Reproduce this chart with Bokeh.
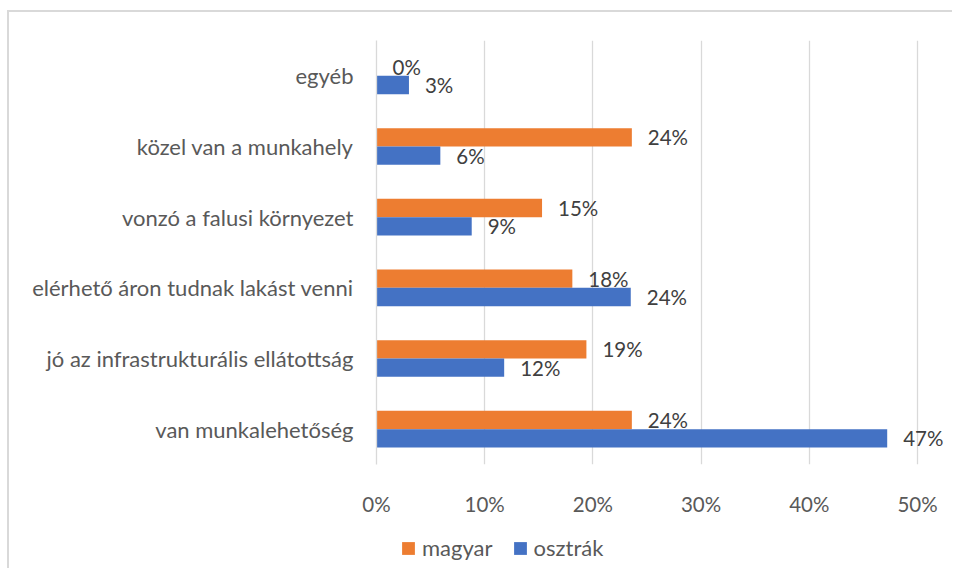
from bokeh.plotting import figure
from bokeh.layouts import column
from bokeh.models import (ColumnDataSource, FactorRange, Range1d, PrintfTickFormatter, Legend,
                          LegendItem, LabelSet)
from bokeh.transform import dodge
from bokeh.core.properties import value
from bokeh.embed import file_html
from bokeh.resources import INLINE

categories = ["egyéb", "közel van a munkahely", "vonzó a falusi környezet",
              "elérhető áron tudnak lakást venni", "jó az infrastrukturális ellátottság",
              "van munkalehetőség"]
magyar = [0.0, 23.6, 15.3, 18.1, 19.4, 23.6]
osztrak = [3.0, 5.9, 8.8, 23.5, 11.8, 47.2]
series_names = ["magyar", "osztrák"]
x_ticks = [0, 10, 20, 30, 40, 50]

FONT = "Lato"
ORANGE = "#ED7D31"
BLUE = "#4472C4"

src = ColumnDataSource(dict(
    cat=categories,
    magyar=magyar,
    osztrak=osztrak,
    magyar_lbl=[f"{round(v):.0f}%" for v in magyar],
    osztrak_lbl=[f"{round(v):.0f}%" for v in osztrak],
))

OX, OY = 9, 12  # page offset of the chart box (its border sits just outside)

p = figure(width=945, height=508, output_backend="svg", toolbar_location=None,
           y_range=FactorRange(factors=list(reversed(categories)), range_padding=0),
           x_range=Range1d(0, 53.42),
           min_border_left=376 - OX, min_border_right=0, min_border_top=40 - OY, min_border_bottom=56)

bw = 0.26
r1 = p.hbar(y=dodge("cat", bw / 2, range=p.y_range), right="magyar", height=bw, left=0,
            source=src, fill_color=ORANGE, line_color=None)
r2 = p.hbar(y=dodge("cat", -bw / 2, range=p.y_range), right="osztrak", height=bw, left=0,
            source=src, fill_color=BLUE, line_color=None)

for col, lbl, off in (("magyar", "magyar_lbl", bw / 2), ("osztrak", "osztrak_lbl", -bw / 2)):
    ls = LabelSet(x=col, y=dodge("cat", off, range=p.y_range), text=lbl, source=src,
                  x_offset=16, text_baseline="middle", text_align="left",
                  text_font=value(FONT), text_font_size="20.5px", text_color="#404040")
    p.add_layout(ls)

p.outline_line_color = None
p.ygrid.grid_line_color = None
p.xgrid.grid_line_color = "#D9D9D9"
p.xgrid.grid_line_width = 1.3
p.xaxis.ticker = x_ticks
p.xaxis.formatter = PrintfTickFormatter(format="%d%%")
p.xaxis.axis_line_color = None
p.xaxis.major_tick_line_color = None
p.xaxis.major_tick_out = 0
p.xaxis.major_tick_in = 0
p.xaxis.minor_tick_line_color = None
p.xaxis.major_label_standoff = 27
p.xaxis.major_label_text_font = FONT
p.xaxis.major_label_text_font_size = "20.5px"
p.xaxis.major_label_text_color = "#595959"

p.yaxis.axis_line_color = "#D9D9D9"
p.yaxis.axis_line_width = 1.3
p.yaxis.major_tick_line_color = None
p.yaxis.major_tick_out = 0
p.yaxis.major_tick_in = 0
p.yaxis.minor_tick_line_color = None
p.yaxis.major_label_standoff = 23
p.yaxis.major_label_text_font = FONT
p.yaxis.major_label_text_font_size = "22px"
p.yaxis.major_label_text_color = "#595959"

# legend strip below the chart (zero-height bars: only the legend swatches show)
pl = figure(width=945, height=50, output_backend="svg", toolbar_location=None,
            x_range=Range1d(0, 53.42),
            y_range=FactorRange(factors=list(reversed(categories)), range_padding=0),
            x_axis_type=None, y_axis_type=None, min_border=0)
pl.outline_line_color = None
pl.grid.grid_line_color = None
l1 = pl.hbar(y="cat", right="magyar", height=0, left=0, source=src,
             fill_color=ORANGE, line_color=None)
l2 = pl.hbar(y="cat", right="osztrak", height=0, left=0, source=src,
             fill_color=BLUE, line_color=None)

legend = Legend(items=[LegendItem(label=series_names[0], renderers=[l1]),
                       LegendItem(label=series_names[1], renderers=[l2])],
                orientation="horizontal", location=(24, 9),
                glyph_width=16, glyph_height=16, label_standoff=6, spacing=19,
                label_text_font=FONT, label_text_font_size="22px", label_text_color="#595959",
                border_line_color=None, background_fill_alpha=0, padding=0, margin=0)
pl.add_layout(legend)

layout = column(p, pl, spacing=0,
                styles={"margin-left": f"{OX}px", "margin-top": f"{OY}px",
                        "box-shadow": "-2px -2px 0 0 #D9D9D9"})

open("out.html", "w").write(file_html(layout, INLINE))
